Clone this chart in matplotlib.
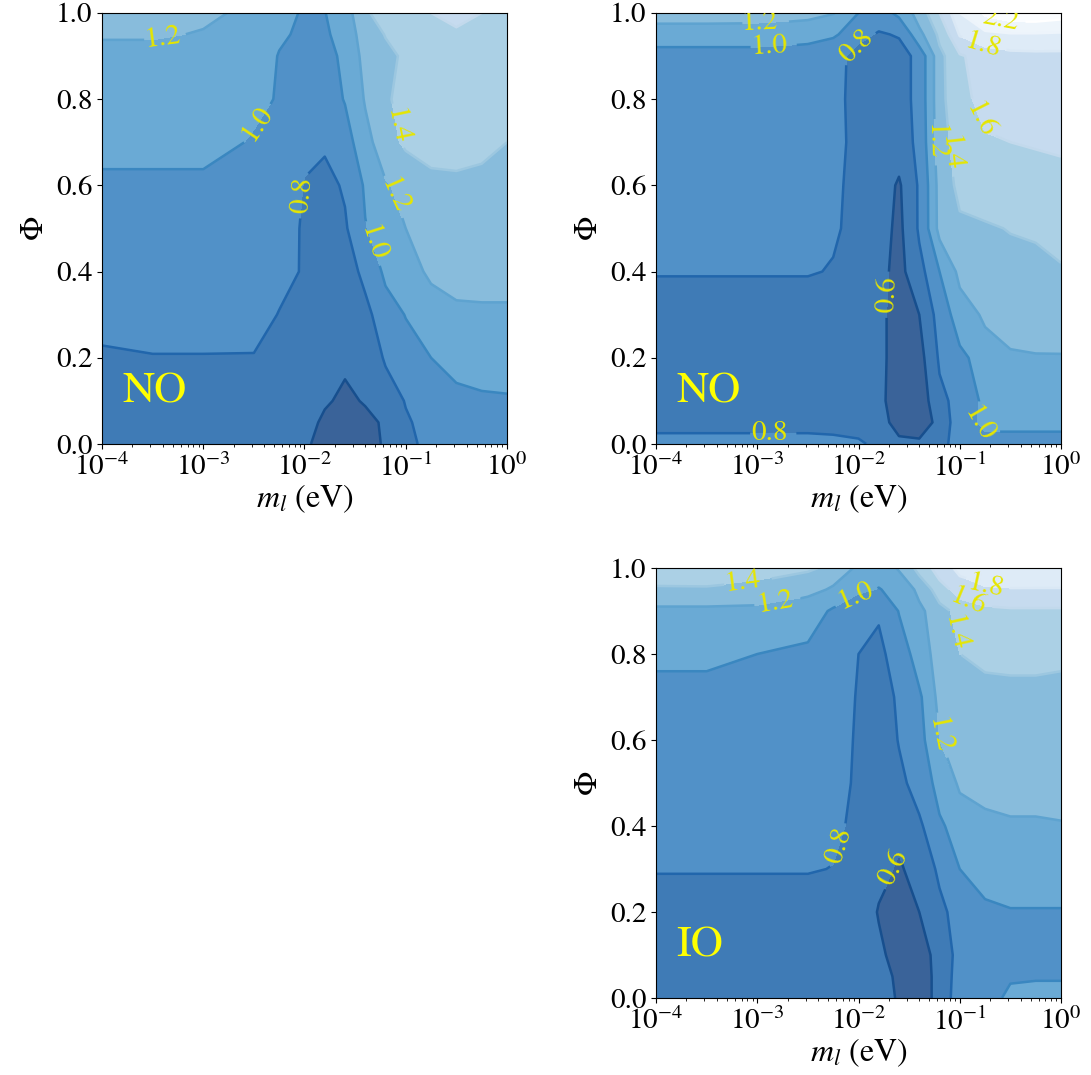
import numpy as np
import matplotlib
matplotlib.use('Agg')
import matplotlib.pyplot as plt

plt.rcParams['font.family'] = 'STIXGeneral'
plt.rcParams['mathtext.fontset'] = 'stix'

# grid nodes: log10(m_l / eV) and Phi
log_ml = [-4, -3.5, -3, -2.5, -2.25, -2, -1.8, -1.6, -1.4, -1.2, -1, -0.75, -0.5, -0.25, 0]
phi = [0, 0.05, 0.1, 0.2, 0.3, 0.4, 0.5, 0.6, 0.7, 0.8, 0.9, 0.95, 1.0]

# values (rows follow phi, columns follow log_ml)
no_left = [
    [0.70, 0.70, 0.70, 0.70, 0.69, 0.63, 0.52, 0.50, 0.52, 0.63, 0.76, 0.86, 0.90, 0.90, 0.90],
    [0.71, 0.71, 0.71, 0.71, 0.70, 0.65, 0.57, 0.52, 0.54, 0.64, 0.78, 0.88, 0.93, 0.95, 0.95],
    [0.72, 0.72, 0.72, 0.72, 0.71, 0.67, 0.62, 0.56, 0.62, 0.72, 0.81, 0.90, 0.95, 0.97, 0.98],
    [0.76, 0.79, 0.79, 0.79, 0.74, 0.69, 0.66, 0.64, 0.70, 0.82, 0.90, 1.00, 1.07, 1.10, 1.10],
    [0.90, 0.90, 0.90, 0.88, 0.79, 0.72, 0.68, 0.67, 0.76, 0.90, 1.01, 1.10, 1.15, 1.16, 1.16],
    [0.90, 0.90, 0.90, 0.90, 0.88, 0.77, 0.72, 0.74, 0.84, 1.05, 1.13, 1.24, 1.30, 1.30, 1.30],
    [0.92, 0.92, 0.92, 0.92, 0.89, 0.77, 0.72, 0.78, 0.99, 1.12, 1.20, 1.30, 1.34, 1.34, 1.33],
    [0.97, 0.97, 0.97, 0.96, 0.92, 0.79, 0.76, 0.82, 1.03, 1.18, 1.28, 1.36, 1.38, 1.38, 1.38],
    [1.05, 1.05, 1.05, 0.98, 0.92, 0.84, 0.82, 0.93, 1.13, 1.35, 1.43, 1.46, 1.44, 1.42, 1.40],
    [1.10, 1.10, 1.10, 1.05, 0.98, 0.92, 0.93, 1.01, 1.22, 1.38, 1.46, 1.48, 1.46, 1.44, 1.43],
    [1.17, 1.17, 1.16, 1.09, 0.99, 0.93, 0.95, 1.04, 1.28, 1.35, 1.44, 1.50, 1.52, 1.50, 1.48],
    [1.21, 1.21, 1.19, 1.12, 1.03, 0.95, 0.97, 1.10, 1.30, 1.41, 1.47, 1.53, 1.57, 1.53, 1.50],
    [1.25, 1.25, 1.23, 1.14, 1.07, 0.97, 0.995, 1.12, 1.38, 1.48, 1.52, 1.60, 1.66, 1.60, 1.52],
]

no_right = [
    [0.83, 0.83, 0.83, 0.83, 0.83, 0.82, 0.76, 0.64, 0.63, 0.74, 0.90, 0.96, 0.96, 0.96, 0.96],
    [0.77, 0.77, 0.77, 0.77, 0.76, 0.74, 0.66, 0.53, 0.51, 0.66, 0.95, 1.03, 1.03, 1.03, 1.03],
    [0.72, 0.72, 0.72, 0.72, 0.72, 0.70, 0.64, 0.50, 0.50, 0.75, 0.88, 1.05, 1.09, 1.10, 1.10],
    [0.72, 0.72, 0.72, 0.72, 0.71, 0.69, 0.64, 0.52, 0.54, 0.83, 0.96, 1.10, 1.18, 1.19, 1.19],
    [0.72, 0.72, 0.72, 0.72, 0.71, 0.69, 0.63, 0.54, 0.60, 0.90, 1.10, 1.24, 1.28, 1.29, 1.30],
    [0.81, 0.81, 0.81, 0.81, 0.79, 0.72, 0.64, 0.55, 0.74, 1.00, 1.26, 1.31, 1.33, 1.36, 1.39],
    [0.88, 0.88, 0.88, 0.85, 0.82, 0.74, 0.66, 0.56, 0.83, 1.27, 1.36, 1.38, 1.41, 1.42, 1.44],
    [0.90, 0.90, 0.90, 0.88, 0.83, 0.74, 0.67, 0.58, 0.83, 1.28, 1.46, 1.50, 1.53, 1.55, 1.56],
    [0.90, 0.90, 0.90, 0.88, 0.84, 0.75, 0.69, 0.68, 0.87, 1.33, 1.50, 1.58, 1.60, 1.61, 1.62],
    [0.90, 0.90, 0.90, 0.88, 0.84, 0.74, 0.70, 0.71, 0.88, 1.35, 1.55, 1.67, 1.70, 1.70, 1.68],
    [0.93, 0.93, 0.93, 0.90, 0.85, 0.74, 0.70, 0.71, 0.88, 1.35, 1.58, 1.70, 1.74, 1.75, 1.75],
    [1.10, 1.10, 1.10, 1.08, 1.03, 0.85, 0.78, 0.82, 1.15, 1.45, 1.82, 1.95, 1.98, 1.98, 1.97],
    [1.30, 1.30, 1.29, 1.26, 1.21, 1.00, 0.92, 1.05, 1.30, 1.60, 2.00, 2.25, 2.35, 2.35, 2.30],
]

io = [
    [0.70, 0.70, 0.70, 0.70, 0.70, 0.68, 0.65, 0.585, 0.50, 0.68, 0.92, 0.97, 1.02, 1.04, 1.04],
    [0.70, 0.70, 0.70, 0.70, 0.70, 0.68, 0.65, 0.57, 0.50, 0.68, 0.90, 0.96, 0.99, 0.99, 0.99],
    [0.70, 0.70, 0.70, 0.70, 0.70, 0.68, 0.63, 0.53, 0.52, 0.68, 0.88, 0.93, 0.94, 0.95, 0.95],
    [0.72, 0.72, 0.72, 0.72, 0.72, 0.68, 0.59, 0.52, 0.60, 0.75, 0.90, 0.97, 0.99, 0.99, 0.99],
    [0.81, 0.81, 0.81, 0.81, 0.795, 0.70, 0.64, 0.58, 0.68, 0.84, 1.00, 1.07, 1.10, 1.10, 1.10],
    [0.90, 0.90, 0.90, 0.89, 0.84, 0.74, 0.67, 0.64, 0.77, 0.97, 1.10, 1.16, 1.18, 1.18, 1.19],
    [0.92, 0.92, 0.92, 0.91, 0.87, 0.76, 0.70, 0.76, 0.88, 1.08, 1.23, 1.26, 1.27, 1.27, 1.27],
    [0.94, 0.94, 0.94, 0.93, 0.88, 0.77, 0.70, 0.81, 0.94, 1.20, 1.28, 1.30, 1.31, 1.31, 1.31],
    [0.97, 0.97, 0.97, 0.95, 0.90, 0.78, 0.70, 0.84, 0.97, 1.27, 1.34, 1.36, 1.37, 1.37, 1.37],
    [1.02, 1.02, 1.00, 0.97, 0.92, 0.80, 0.76, 0.90, 1.10, 1.30, 1.40, 1.43, 1.43, 1.43, 1.42],
    [1.15, 1.15, 1.14, 1.08, 0.97, 0.85, 0.82, 1.01, 1.16, 1.33, 1.48, 1.55, 1.57, 1.57, 1.57],
    [1.39, 1.39, 1.36, 1.26, 1.17, 1.04, 0.99, 1.08, 1.25, 1.52, 1.70, 1.78, 1.79, 1.79, 1.79],
    [1.45, 1.46, 1.45, 1.43, 1.34, 1.15, 1.10, 1.22, 1.48, 1.70, 1.86, 1.93, 1.94, 1.93, 1.93],
]

fill_levels = [0.0, 0.6, 0.8, 1.0, 1.2, 1.4, 1.6, 1.8, 2.0, 2.2, 3.0]
fill_colors = ['#3a6399', '#3f7bb6', '#5191c8', '#6aaad5', '#88bcdc',
               '#abd0e5', '#c6dbef', '#deebf7', '#eef5fb', '#fbfdff']
line_levels = [0.6, 0.8, 1.0, 1.2, 1.4, 1.6, 1.8, 2.0, 2.2]
line_colors = ['#174f8e', '#2166ac', '#3a87c0', '#5ea3d0', '#9cc7e0',
               '#c2d9ec', '#dae8f5', '#edf4fb', '#ffffff']

# where the contour labels sit (log10 m_l, Phi)
labels_no_left = [(-3.41, 0.955), (-2.42, 0.737), (-2.18, 0.58), (-1.08, 0.737),
                  (-1.05, 0.58), (-1.26, 0.47)]
labels_no_right = [(-2.98, 0.975), (-2.88, 0.945), (-2.05, 0.93), (-0.6, 0.98),
                   (-0.75, 0.935), (-0.76, 0.755), (-1.24, 0.70), (-1.03, 0.675),
                   (-1.62, 0.345), (-2.88, 0.03), (-0.82, 0.045)]
labels_io = [(-3.13, 0.955), (-2.83, 0.935), (-2.05, 0.945), (-0.9, 0.935),
             (-0.74, 0.96), (-1.03, 0.85), (-1.19, 0.61), (-2.27, 0.36), (-1.63, 0.3)]

fig = plt.figure(figsize=(10.91, 10.75), dpi=100)


def draw_panel(rect, z, tag, label_pos):
    ax = fig.add_axes(rect)
    ax.set_xscale('log')
    ax.set_xlim(1e-4, 1)
    ax.set_ylim(0, 1)
    m = 10.0 ** np.array(log_ml)
    X, Y = np.meshgrid(m, phi)
    Z = np.array(z)
    ax.contourf(X, Y, Z, levels=fill_levels, colors=fill_colors)
    cs = ax.contour(X, Y, Z, levels=line_levels, colors=line_colors, linewidths=1.8)
    ax.clabel(cs, fmt='%.1f', colors='#e6e600', fontsize=21, inline=True,
              manual=[(10.0 ** x, y) for x, y in label_pos])
    ax.set_xlim(1e-4, 1)
    ax.set_ylim(0, 1)
    ax.set_xlabel(r'$m_l$ (eV)', fontsize=23, labelpad=0)
    ax.set_ylabel(r'$\Phi$', fontsize=23)
    ax.tick_params(labelsize=21)
    ax.text(0.05, 0.097, tag, transform=ax.transAxes, color='yellow',
            fontsize=32, va='baseline')
    return ax


draw_panel([0.0935, 0.587, 0.3712, 0.401], no_left, 'NO', labels_no_left)
draw_panel([0.6013, 0.587, 0.3712, 0.401], no_right, 'NO', labels_no_right)
draw_panel([0.6013, 0.0716, 0.3712, 0.400], io, 'IO', labels_io)

fig.savefig('out.png', dpi=100)
